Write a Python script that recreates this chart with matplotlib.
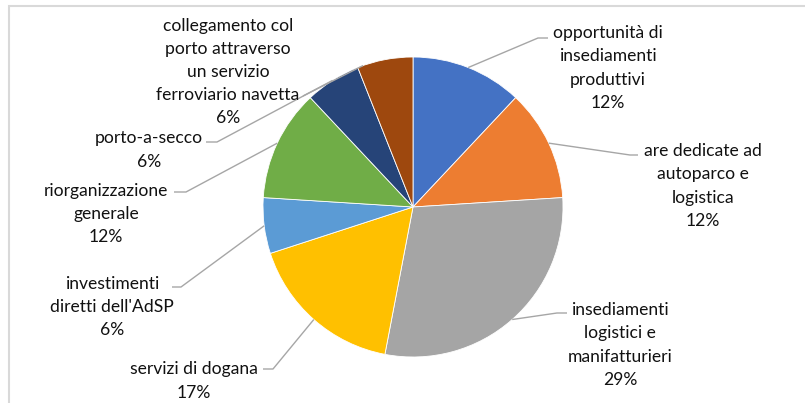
"""Pie chart of the requested interventions, with labels and leader lines."""

import matplotlib

matplotlib.use("Agg")
import matplotlib.pyplot as plt  # noqa: E402
import numpy as np  # noqa: E402
from matplotlib.patches import Rectangle  # noqa: E402

W, H = 805, 403

categories = [
    "opportunità di\ninsediamenti\nproduttivi",
    "are dedicate ad\nautoparco e\nlogistica",
    "insediamenti\nlogistici e\nmanifatturieri",
    "servizi di dogana",
    "investimenti\ndiretti dell'AdSP",
    "riorganizzazione\ngenerale",
    "porto-a-secco",
    "collegamento col\nporto attraverso\nun servizio\nferroviario navetta",
]
shares = [12, 12, 29, 17, 6, 12, 6, 6]
colors = ["#4472C4", "#ED7D31", "#A5A5A5", "#FFC000",
          "#5B9BD5", "#70AD47", "#264478", "#9E480E"]

# label block centres (pixels from top-left)
label_pos = [(608, 68), (703, 186), (620, 345), (194, 381),
             (112, 307), (106, 214), (149, 150), (228, 72)]
# leader line elbow and end of the short horizontal stub
elbows = [(538, 38), (630, 155), (557, 313), (273, 369),
          (181, 287), (186, 192), (217, 142), (303, 96)]
stubs = [(548, 38), (638, 155), (567, 313), (263, 369),
         (172, 287), (174, 192), (206, 142), (303, 96)]
# where along each wedge's arc (theta1 -> theta2) the leader line attaches
attach = [0.5, 0.5, 0.5, 0.5, 0.5, 0.5, 0.5, 0.9]

CX, CY, R = 413, 207, 150


def flip(p):
    return p[0], H - p[1]


fig = plt.figure(figsize=(W / 100, H / 100), dpi=100)
ax = fig.add_axes([0, 0, 1, 1])
wedges, _ = ax.pie(
    shares,
    colors=colors,
    startangle=90,
    counterclock=False,
    center=(CX, H - CY),
    radius=R,
    wedgeprops=dict(edgecolor="white", linewidth=0.6),
)
ax.set_xlim(0, W)
ax.set_ylim(0, H)
ax.set_aspect("equal")
ax.axis("off")

# chart area frame
ax.add_patch(Rectangle((9, -10), W, H - 6 + 10, fill=False,
                       edgecolor="#d9d9d9", linewidth=1.5, zorder=0))

for i, w in enumerate(wedges):
    ang = np.deg2rad(w.theta1 + (w.theta2 - w.theta1) * attach[i])
    sx = CX + R * np.cos(ang)
    sy = (H - CY) + R * np.sin(ang)
    ex, ey = flip(elbows[i])
    hx, hy = flip(stubs[i])
    ax.plot([sx, ex, hx], [sy, ey, hy], color="#a6a6a6", lw=1.0,
            solid_capstyle="butt", zorder=3)
    lx, ly = flip(label_pos[i])
    ax.text(lx, ly, f"{categories[i]}\n{shares[i]}%", ha="center",
            va="center", fontsize=12.6, family="Lato", color="#111111",
            linespacing=1.55, zorder=4)

fig.savefig("out.png", dpi=100, facecolor="white")
